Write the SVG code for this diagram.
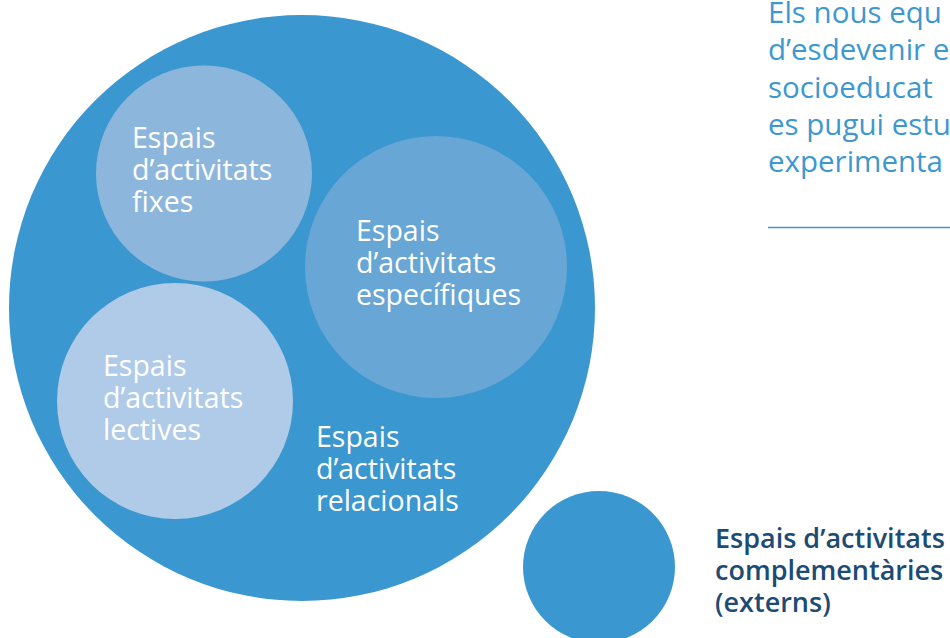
<svg xmlns="http://www.w3.org/2000/svg" width="950" height="638" viewBox="0 0 950 638">
<style>
.lbl{font-family:"Open Sans","Liberation Sans",sans-serif;font-size:28.5px;fill:#ffffff}
.ext{font-family:"Open Sans","Liberation Sans",sans-serif;font-size:27px;font-weight:600;fill:#1d4b74}
.intro{font-family:"Open Sans","Liberation Sans",sans-serif;font-size:29.5px;fill:#3d98d0}
</style>
<rect width="950" height="638" fill="#ffffff"/>
<g id="intro">
<text class="intro" x="768" y="23">Els nous equ</text>
<text class="intro" x="768" y="60">d’esdevenir e</text>
<text class="intro" x="768" y="98">socioeducat</text>
<text class="intro" x="768" y="135">es pugui estu</text>
<text class="intro" x="768" y="172">experimenta</text>
<line x1="768" y1="227.5" x2="950" y2="227.5" stroke="#3d98d0" stroke-width="1.5"/>
</g>
<g id="relacionals">
<circle cx="302" cy="308" r="293" fill="#3b97cf"/>
<text class="lbl" x="316" y="447">Espais</text>
<text class="lbl" x="316" y="479">d’activitats</text>
<text class="lbl" x="316" y="511">relacionals</text>
</g>
<g id="fixes">
<circle cx="204" cy="173.5" r="108" fill="#8db6dd"/>
<text class="lbl" x="132" y="148">Espais</text>
<text class="lbl" x="132" y="180">d’activitats</text>
<text class="lbl" x="132" y="212">fixes</text>
</g>
<g id="especifiques">
<circle cx="436" cy="267" r="131" fill="#68a6d5"/>
<text class="lbl" x="356" y="241">Espais</text>
<text class="lbl" x="356" y="273">d’activitats</text>
<text class="lbl" x="356" y="305">específiques</text>
</g>
<g id="lectives">
<circle cx="175" cy="401" r="118" fill="#b0cbe8"/>
<text class="lbl" x="103" y="376">Espais</text>
<text class="lbl" x="103" y="408">d’activitats</text>
<text class="lbl" x="103" y="440">lectives</text>
</g>
<g id="complementaries">
<circle cx="599" cy="567" r="76" fill="#3b97cf"/>
<text class="ext" x="715" y="548">Espais d’activitats</text>
<text class="ext" x="715" y="580">complementàries</text>
<text class="ext" x="715" y="612">(externs)</text>
</g>
<g id="connectors"/>
</svg>
